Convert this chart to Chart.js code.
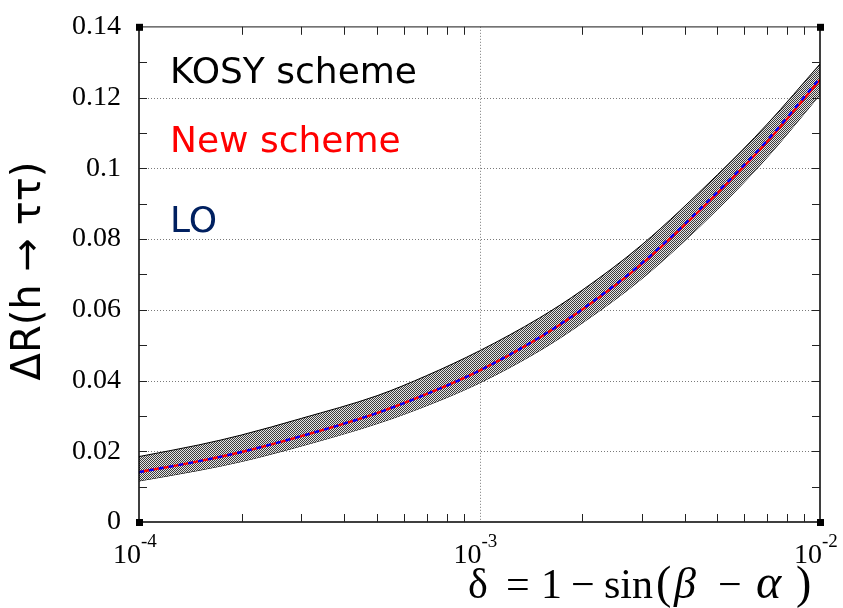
<!DOCTYPE html>
<html>
<head>
<meta charset="utf-8">
<script src="https://cdn.jsdelivr.net/npm/chart.js@4"></script>
<style>
  html, body { margin: 0; padding: 0; background: #fff; }
  #wrap { width: 843px; height: 608px; }
</style>
</head>
<body>
<div id="wrap"><canvas id="c" width="843" height="608"></canvas></div>
<script>
// delta = 1 - sin(beta - alpha)
const delta      = [1e-4, 1.5e-4, 2e-4, 3e-4, 5e-4, 7e-4, 1e-3, 1.5e-3, 2e-3, 3e-3, 5e-3, 7e-3, 1e-2];
// KOSY scheme band (upper / lower edge)
const kosyUpper  = [0.0185, 0.0218, 0.0246, 0.0293, 0.0357, 0.0414, 0.0484, 0.0577, 0.0655, 0.0784, 0.0982, 0.1125, 0.1295];
const kosyLower  = [0.0116, 0.0146, 0.0171, 0.0215, 0.0278, 0.0329, 0.0393, 0.0484, 0.0562, 0.0688, 0.0884, 0.1031, 0.1208];
// New scheme and LO curves
const newScheme  = [0.0141, 0.0172, 0.0198, 0.0243, 0.0308, 0.0362, 0.0428, 0.0521, 0.0600, 0.0730, 0.0930, 0.1075, 0.1250];
const loCurve    = [0.0141, 0.0172, 0.0198, 0.0243, 0.0308, 0.0362, 0.0428, 0.0522, 0.0601, 0.0732, 0.0933, 0.1079, 0.1255];
// axis settings
const yMin = 0, yMax = 0.14, yStep = 0.02, yMinorStep = 0.01;
const xExponents = [-4, -3, -2];
const legendLabels = ['KOSY scheme', 'New scheme', 'LO'];
const legendColors = ['#000000', '#ff0000', '#002060'];
const yTitle = 'ΔR(h → ττ)';

const pts = arr => delta.map((d, i) => ({ x: d, y: arr[i] }));

// fine two-tone checker used to fill the band
function checkerPattern() {
  const c = document.createElement('canvas');
  c.width = 2; c.height = 2;
  const g = c.getContext('2d');
  g.fillStyle = '#e4e4e4'; g.fillRect(0, 0, 2, 2);
  g.fillStyle = '#3c3c3c'; g.fillRect(0, 0, 1, 1); g.fillRect(1, 1, 1, 1);
  return g.createPattern(c, 'repeat');
}

// dotted grid lines drawn under the data
const dottedGrid = {
  id: 'dottedGrid',
  beforeDatasetsDraw(chart) {
    const ctx = chart.ctx;
    const a = chart.chartArea;
    const xs = chart.scales.x, ys = chart.scales.y;
    ctx.save();
    ctx.strokeStyle = '#7a7a7a';
    ctx.lineWidth = 1;
    ctx.setLineDash([1, 2]);
    for (let v = yMin + yStep; v < yMax - 1e-9; v += yStep) {
      const py = Math.round(ys.getPixelForValue(v)) + 0.5;
      ctx.beginPath(); ctx.moveTo(a.left, py); ctx.lineTo(a.right, py); ctx.stroke();
    }
    for (let i = 1; i < xExponents.length - 1; i++) {
      const px = Math.round(xs.getPixelForValue(Math.pow(10, xExponents[i]))) + 0.5;
      ctx.beginPath(); ctx.moveTo(px, a.top); ctx.lineTo(px, a.bottom); ctx.stroke();
    }
    ctx.restore();
  }
};

const decorations = {
  id: 'decorations',
  afterDraw(chart) {
    const ctx = chart.ctx;
    const a = chart.chartArea;
    const xs = chart.scales.x, ys = chart.scales.y;
    ctx.save();

    // frame
    ctx.strokeStyle = '#000';
    ctx.lineWidth = 1.5;
    ctx.beginPath();
    ctx.moveTo(a.left, a.top); ctx.lineTo(a.left, a.bottom); ctx.lineTo(a.right, a.bottom); ctx.lineTo(a.right, a.top);
    ctx.stroke();
    ctx.strokeStyle = '#444';
    ctx.lineWidth = 1.2;
    ctx.beginPath(); ctx.moveTo(a.left, a.top); ctx.lineTo(a.right, a.top); ctx.stroke();

    // inward minor ticks on y (left & right)
    ctx.strokeStyle = '#222';
    ctx.lineWidth = 1;
    const tl = 8;
    for (let v = yMin + yMinorStep; v < yMax - 1e-9; v += yMinorStep) {
      const py = Math.round(ys.getPixelForValue(v)) + 0.5;
      ctx.beginPath();
      ctx.moveTo(a.left, py); ctx.lineTo(a.left + tl, py);
      ctx.moveTo(a.right - tl, py); ctx.lineTo(a.right, py);
      ctx.stroke();
    }
    // inward minor ticks on x (bottom & top)
    for (let e = xExponents[0]; e < xExponents[xExponents.length - 1]; e++) {
      for (let m = 2; m <= 9; m++) {
        const px = Math.round(xs.getPixelForValue(m * Math.pow(10, e))) + 0.5;
        ctx.beginPath();
        ctx.moveTo(px, a.bottom); ctx.lineTo(px, a.bottom - tl);
        ctx.moveTo(px, a.top); ctx.lineTo(px, a.top + tl);
        ctx.stroke();
      }
    }

    // corner squares
    ctx.fillStyle = '#000';
    [[a.left, a.top], [a.right, a.top], [a.left, a.bottom], [a.right, a.bottom]].forEach(([cx, cy]) => {
      ctx.fillRect(cx - 3, cy - 3, 7, 7);
    });

    // x tick labels: 10^n
    ctx.fillStyle = '#000';
    ctx.textBaseline = 'alphabetic';
    xExponents.forEach(e => {
      const px = xs.getPixelForValue(Math.pow(10, e));
      ctx.font = '28px "Liberation Serif"';
      ctx.textAlign = 'right';
      ctx.fillText('10', px + 2, 563);
      ctx.font = '19px "Liberation Serif"';
      ctx.textAlign = 'left';
      ctx.fillText('-' + Math.abs(e), px + 2, 547);
    });

    // x axis title: δ = 1 − sin(β − α)
    const tb = 598;
    const fr = '42px "Liberation Serif"';
    const fp = '46px "Liberation Serif"';
    const fi = 'italic 44px "Liberation Serif"';
    const fa = 'italic 48px "Liberation Serif"';
    const pieces = [
      ['δ', 468, fr], ['=', 506, fr], ['1', 541, fr], ['−', 571, fr],
      ['sin', 604, fr], ['(', 656, fp], ['β', 674, fi], ['−', 718, fr],
      ['α', 756, fa], [')', 796, fp]
    ];
    ctx.textAlign = 'left';
    pieces.forEach(([t, px, f]) => { ctx.font = f; ctx.fillText(t, px, tb); });

    // y axis title
    ctx.save();
    ctx.translate(30, 271);
    ctx.rotate(-Math.PI / 2);
    ctx.font = '40px "DejaVu Sans"';
    ctx.textAlign = 'center';
    ctx.textBaseline = 'middle';
    ctx.fillText(yTitle, 0, 0);
    ctx.restore();

    // series labels
    const baselines = [83, 152, 232];
    ctx.font = '36px "DejaVu Sans"';
    ctx.textAlign = 'left';
    legendLabels.forEach((t, i) => {
      ctx.fillStyle = legendColors[i];
      ctx.fillText(t, 170, baselines[i]);
    });

    ctx.restore();
  }
};

new Chart(document.getElementById('c'), {
  type: 'line',
  data: {
    datasets: [
      {
        label: 'KOSY lower',
        data: pts(kosyLower),
        borderColor: '#000', borderWidth: 1,
        pointRadius: 0, fill: false,
        cubicInterpolationMode: 'monotone',
        order: 4
      },
      {
        label: 'KOSY scheme',
        data: pts(kosyUpper),
        borderColor: '#000', borderWidth: 1,
        backgroundColor: checkerPattern(),
        pointRadius: 0, fill: '-1',
        cubicInterpolationMode: 'monotone',
        order: 3
      },
      {
        label: 'New scheme',
        data: pts(newScheme),
        borderColor: '#ff0000', borderWidth: 2.4,
        pointRadius: 0, fill: false,
        cubicInterpolationMode: 'monotone',
        order: 2
      },
      {
        label: 'LO',
        data: pts(loCurve),
        borderColor: '#0000ff', borderWidth: 2.4,
        borderDash: [5, 5],
        pointRadius: 0, fill: false,
        cubicInterpolationMode: 'monotone',
        order: 1
      }
    ]
  },
  options: {
    responsive: false,
    animation: false,
    devicePixelRatio: 1,
    layout: { padding: { top: 22, right: 23, left: 0, bottom: 0 } },
    plugins: { legend: { display: false }, tooltip: { enabled: false } },
    scales: {
      x: {
        type: 'logarithmic',
        min: Math.pow(10, xExponents[0]),
        max: Math.pow(10, xExponents[xExponents.length - 1]),
        ticks: { display: false },
        grid: { display: false },
        border: { display: false },
        afterFit: s => { s.height = 86; }
      },
      y: {
        min: yMin, max: yMax,
        ticks: {
          stepSize: yStep,
          color: '#000',
          padding: 10,
          font: { family: 'Liberation Serif', size: 28 },
          callback: v => String(Number(v.toFixed(2)))
        },
        grid: { display: false },
        border: { display: false },
        afterFit: s => { s.width = 139; }
      }
    }
  },
  plugins: [dottedGrid, decorations]
});
</script>
</body>
</html>
